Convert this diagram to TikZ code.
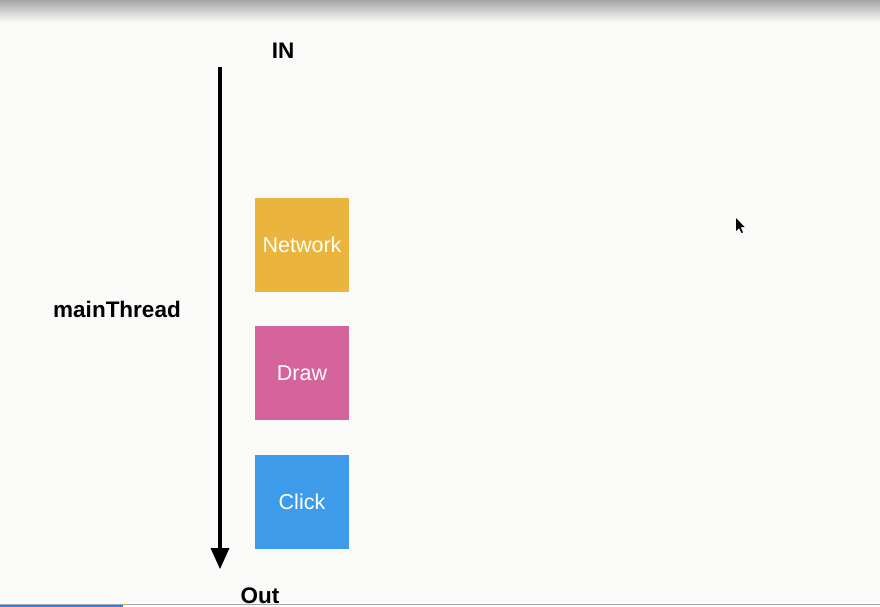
\documentclass[tikz,border=0pt]{standalone}
\usepackage{fontspec}
\setmainfont{Liberation Sans}
\definecolor{bg}{HTML}{FAFAF8}
\definecolor{netc}{HTML}{EBB43C}
\definecolor{drawc}{HTML}{D6649C}
\definecolor{clickc}{HTML}{3E9BEA}
\definecolor{topgray}{HTML}{A6A6A6}
\begin{document}
\begin{tikzpicture}[x=1pt,y=-1pt,
  box/.style={minimum width=94pt,minimum height=94pt,inner sep=0pt,text=white,font=\fontsize{21.5}{24}\selectfont},
  lbl/.style={font=\fontsize{22.5}{25}\selectfont\bfseries,inner sep=0pt}]
\useasboundingbox (0,0) rectangle (880,607);
\fill[bg] (0,0) rectangle (880,607);
\shade[top color=topgray,bottom color=bg] (0,0) rectangle (880,22);
% arrow
\coordinate (top) at (220,67);
\coordinate (bot) at (220,548);
\draw[line width=4pt] (top) -- (bot);
\fill (210.5,548) -- (229.5,548) -- (220,569) -- cycle;
% labels
\node[lbl] (in) at (283,51) {IN};
\node[lbl] (mt) at (117,309.5) {mainThread};
\node[lbl,anchor=base] (out) at (260,603.5) {Out};
% boxes
\node[box,fill=netc] (net) at (302,245) {Network};
\node[box,fill=drawc] (drw) at (302,373) {Draw};
\node[box,fill=clickc] (clk) at (302,502) {Click};
% bottom bar
\draw[gray!70,line width=0.8pt] (0,604.5) -- (880,604.5);
\fill[clickc!80!blue] (0,605) rectangle (123,607);
% cursor
\fill[black] (736,218) -- (736,231) -- (739,228) -- (741.5,233) -- (743,232.3) -- (740.6,227.4) -- (744.5,227) -- cycle;
\end{tikzpicture}
\end{document}
